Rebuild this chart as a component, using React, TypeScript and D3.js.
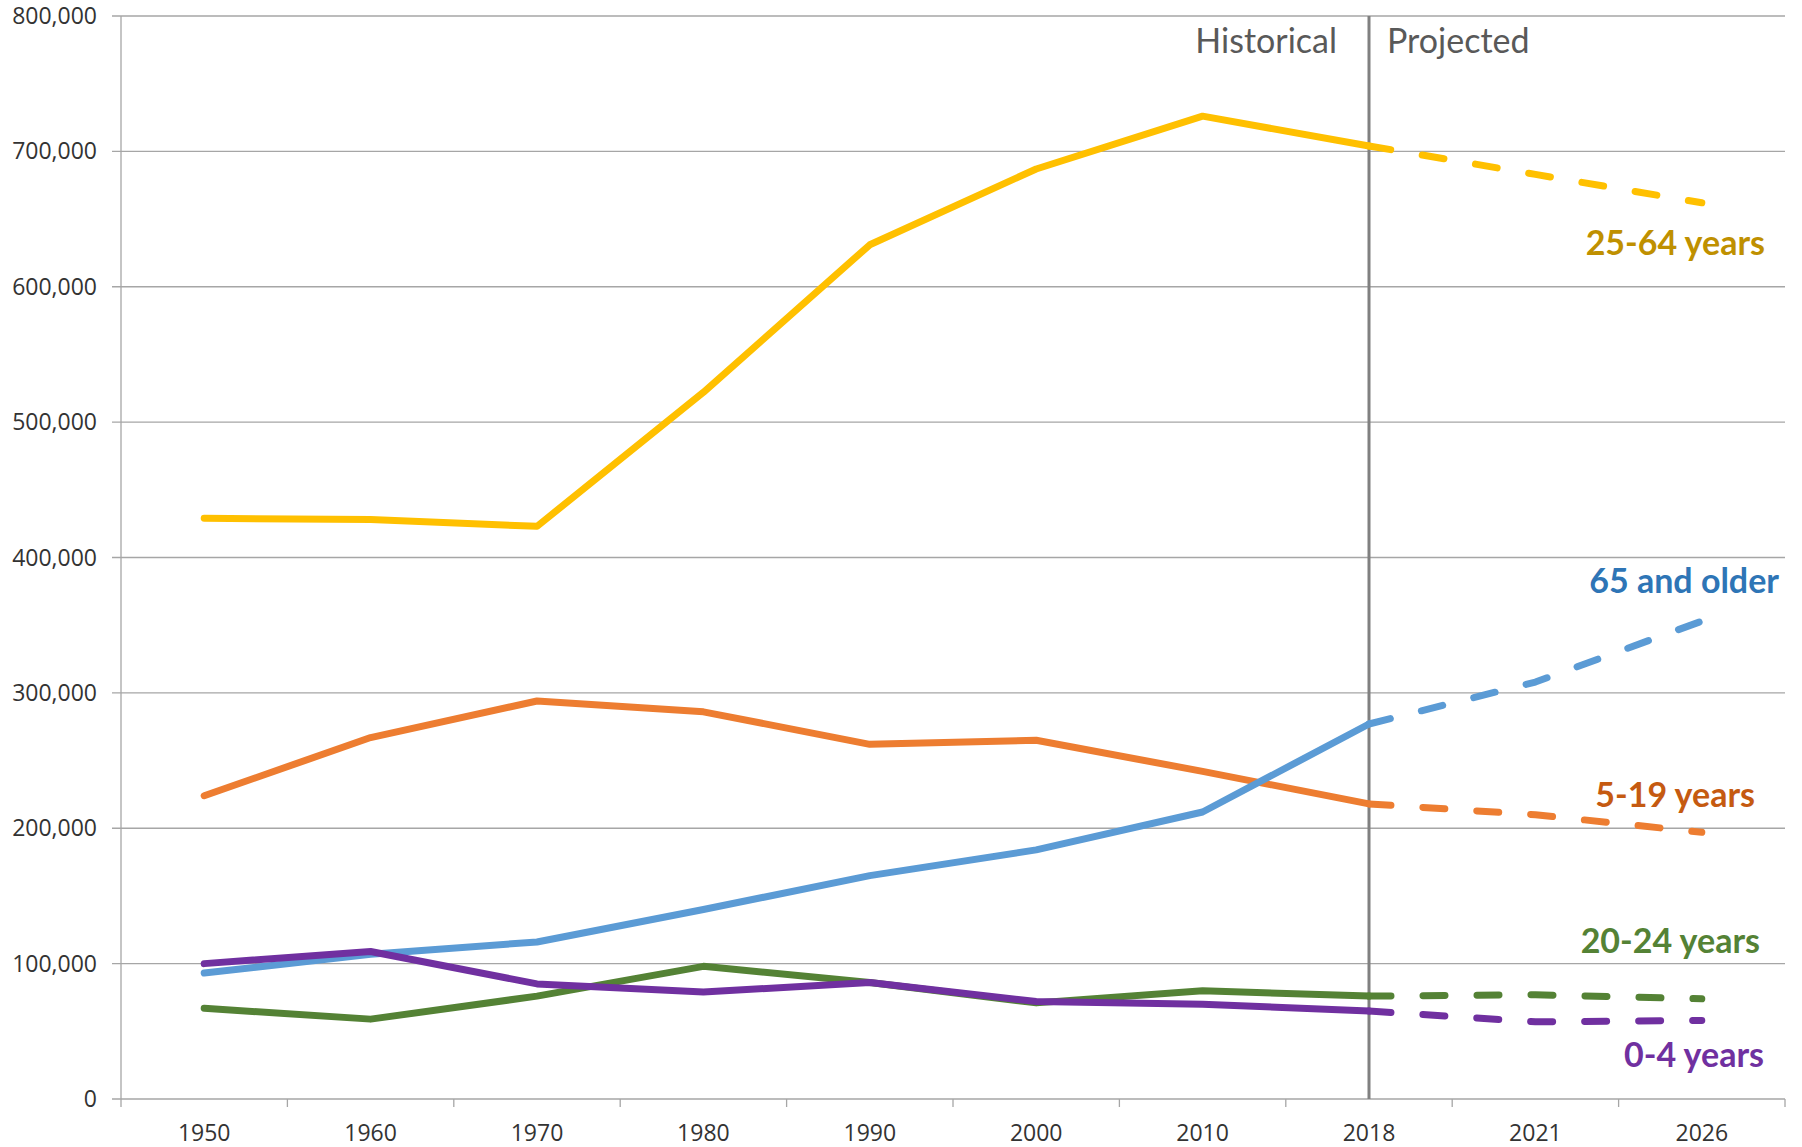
import React from 'react'
import * as d3 from 'd3'

// years on the category axis
const years = ['1950', '1960', '1970', '1980', '1990', '2000', '2010', '2018', '2021', '2026']
const projectionStart = '2018'

// population by age group
const age0to4 = [100000, 109000, 85000, 79000, 86000, 72000, 70000, 65000, 57000, 58000]
const age5to19 = [224000, 267000, 294000, 286000, 262000, 265000, 242000, 218000, 210000, 197000]
const age20to24 = [67000, 59000, 76000, 98000, 86000, 71000, 80000, 76000, 77000, 74000]
const age25to64 = [429000, 428000, 423000, 522000, 631000, 687000, 726000, 704000, 683000, 662000]
const age65plus = [93000, 107000, 116000, 140000, 165000, 184000, 212000, 277000, 308000, 353000]

const yTicks = [0, 100000, 200000, 300000, 400000, 500000, 600000, 700000, 800000]

const series = [
  { name: '25-64 years', values: age25to64, color: '#FFC000', labelColor: '#BF9000', lx: 1765, ly: 255 },
  { name: '5-19 years', values: age5to19, color: '#ED7D31', labelColor: '#C55A11', lx: 1755, ly: 807 },
  { name: '65 and older', values: age65plus, color: '#5B9BD5', labelColor: '#2E75B6', lx: 1779, ly: 593 },
  { name: '20-24 years', values: age20to24, color: '#548235', labelColor: '#548235', lx: 1760, ly: 953 },
  { name: '0-4 years', values: age0to4, color: '#7030A0', labelColor: '#7030A0', lx: 1764, ly: 1067 },
]

const W = 1802
const H = 1147
const left = 121
const right = 1785
const top = 16
const bottom = 1099

export default function App() {
  const x = d3.scaleBand().domain(years).range([left, right])
  const cx = (d: string) => (x(d) as number) + x.bandwidth() / 2
  const y = d3.scaleLinear().domain([0, 800000]).range([bottom, top])
  const fmt = d3.format(',')
  const cut = years.indexOf(projectionStart)

  const line = d3.line<[string, number]>()
    .x(d => cx(d[0]))
    .y(d => y(d[1]))

  const tickFont = '"Open Sans", sans-serif'
  const boundaries = d3.range(years.length + 1).map(i => left + i * x.bandwidth())

  return (
    <svg width={W} height={H} style={{ position: 'absolute', left: 0, top: 0, background: '#fff' }}>
      {/* gridlines + y labels */}
      {yTicks.map(t => (
        <g key={t}>
          <line x1={left - 9} x2={right} y1={y(t)} y2={y(t)} stroke="#A6A6A6" strokeWidth={1.3} />
          <text x={97} y={y(t) + 8} textAnchor="end" fontFamily={tickFont} fontSize={23} fill="#333">
            {fmt(t)}
          </text>
        </g>
      ))}
      {/* y axis */}
      <line x1={left} x2={left} y1={top} y2={bottom} stroke="#A6A6A6" strokeWidth={1.3} />
      {/* x ticks */}
      {boundaries.map((b, i) => (
        <line key={i} x1={b} x2={b} y1={bottom} y2={bottom + 8} stroke="#A6A6A6" strokeWidth={1.3} />
      ))}
      {years.map(yr => (
        <text key={yr} x={cx(yr)} y={1141} textAnchor="middle" fontFamily={tickFont} fontSize={23} fill="#333">
          {yr}
        </text>
      ))}

      {/* historical / projected divider */}
      <line x1={cx(projectionStart)} x2={cx(projectionStart)} y1={top} y2={bottom} stroke="#808080" strokeWidth={3} />
      <text x={1337} y={53} textAnchor="end" fontFamily="Lato, sans-serif" fontSize={34} fill="#595959">Historical</text>
      <text x={1387} y={53} fontFamily="Lato, sans-serif" fontSize={34} fill="#595959">Projected</text>

      {/* lines */}
      {series.map(s => {
        const pts = years.map((yr, i) => [yr, s.values[i]] as [string, number])
        return (
          <g key={s.name}>
            <path d={line(pts.slice(0, cut + 1)) || ''} fill="none" stroke={s.color} strokeWidth={7}
              strokeLinejoin="round" strokeLinecap="round" />
            <path d={line(pts.slice(cut)) || ''} fill="none" stroke={s.color} strokeWidth={7}
              strokeLinejoin="round" strokeLinecap="round" strokeDasharray="22 32" />
          </g>
        )
      })}

      {/* series labels */}
      {series.map(s => (
        <text key={s.name} x={s.lx} y={s.ly} textAnchor="end" fontFamily="Lato, sans-serif" fontWeight="bold"
          fontSize={34} fill={s.labelColor}>
          {s.name}
        </text>
      ))}
    </svg>
  )
}
